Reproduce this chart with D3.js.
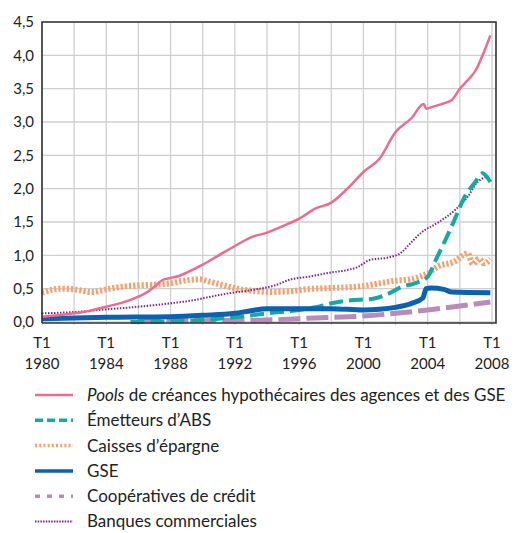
<!DOCTYPE html>
<html lang="fr">
<head>
  <meta charset="utf-8">
  <title>Détenteurs de créances hypothécaires</title>
  <script src="https://d3js.org/d3.v7.min.js"></script>
  <style>
    body { margin: 0; background: #fff; font-family: Lato, "Open Sans", sans-serif; }
    text { fill: #222; }
  </style>
</head>
<body>
  <div id="chart"></div>
  <script>
    // Data: [year (decimal), value]
    const pools = [[1980,0.08],[1981,0.1],[1982,0.13],[1983,0.17],[1984,0.23],[1985,0.29],[1986,0.38],[1986.5,0.44],[1987,0.53],[1987.5,0.63],[1988,0.66],[1988.5,0.69],[1989,0.74],[1990,0.86],[1991,1.0],[1992,1.14],[1993,1.27],[1994,1.34],[1995,1.44],[1996,1.55],[1997,1.7],[1998,1.79],[1999,2.0],[2000,2.25],[2001,2.45],[2002,2.85],[2003,3.06],[2003.75,3.27],[2003.9,3.2],[2004.2,3.22],[2005,3.28],[2005.5,3.33],[2006,3.5],[2006.5,3.63],[2007,3.78],[2007.5,4.05],[2007.9,4.3]];
    const abs = [[1985.5,0.0],[1988,0.01],[1990,0.03],[1992,0.07],[1994,0.13],[1996,0.18],[1997,0.22],[1998,0.28],[1999,0.32],[2000.6,0.35],[2001.6,0.43],[2002.4,0.53],[2003.2,0.58],[2004,0.68],[2004.5,0.93],[2005.1,1.23],[2005.7,1.55],[2006.3,1.88],[2006.9,2.08],[2007.4,2.23],[2007.9,2.1]];
    const caisses = [[1980,0.44],[1981.2,0.5],[1982,0.49],[1983.1,0.45],[1984,0.49],[1985,0.53],[1986,0.55],[1987,0.56],[1988,0.58],[1988.8,0.62],[1989.8,0.64],[1990.5,0.6],[1991.3,0.55],[1992.1,0.5],[1993.1,0.47],[1994.2,0.45],[1995.4,0.46],[1996.4,0.49],[1997.9,0.51],[1999,0.52],[2000,0.54],[2001,0.58],[2002,0.62],[2003.1,0.65],[2004,0.73],[2004.7,0.84],[2005.6,0.9],[2006.5,1.03],[2006.8,0.87],[2007.2,0.95],[2007.5,0.88],[2007.9,0.95]];
    const gse = [[1980,0.05],[1984,0.07],[1988,0.08],[1990,0.1],[1992,0.13],[1993,0.17],[1994,0.2],[1996,0.2],[1998,0.2],[2000,0.18],[2001,0.19],[2002,0.22],[2003,0.28],[2003.7,0.36],[2003.9,0.5],[2004.2,0.51],[2005,0.49],[2005.5,0.45],[2007.9,0.44]];
    const coop = [[1986,0.01],[1990,0.02],[1994,0.03],[1996,0.05],[1998,0.07],[2000,0.09],[2002,0.13],[2004,0.18],[2006,0.24],[2007.9,0.3]];
    const banques = [[1980,0.13],[1982,0.15],[1984,0.19],[1986,0.23],[1988,0.28],[1989.5,0.33],[1990.5,0.38],[1991.6,0.43],[1993.1,0.48],[1994.5,0.55],[1995.5,0.64],[1996.6,0.68],[1997.9,0.74],[1999,0.78],[1999.6,0.82],[2000.4,0.93],[2001.6,0.97],[2002.4,1.05],[2002.8,1.15],[2003.6,1.34],[2004.7,1.5],[2005.7,1.68],[2006.5,1.88],[2007.1,2.1],[2007.9,2.19]];

    const yTicks = [0, 0.5, 1, 1.5, 2, 2.5, 3, 3.5, 4, 4.5];
    const xTickYears = [1980, 1984, 1988, 1992, 1996, 2000, 2004, 2008];
    const gridYears = d3.range(1980, 2009, 2);

    const series = [
      { name: "Pools", rest: " de créances hypothécaires des agences et des GSE", data: pools, color: "#ef6b8e", width: 2.5, dash: null, legendDash: null },
      { name: "Émetteurs d’ABS", data: abs, color: "#12aaa2", width: 4, dash: "14,6", legendDash: "8,4" },
      { name: "Caisses d’épargne", data: caisses, color: "#f8a06c", width: 6, dash: "2.2,2", legendDash: "2,2.2" },
      { name: "GSE", data: gse, color: "#0b62b0", width: 5, dash: null, legendDash: null },
      { name: "Coopératives de crédit", data: coop, color: "#b78cb8", width: 5, dash: "22,6", legendDash: "5,7" },
      { name: "Banques commerciales", data: banques, color: "#7c2784", width: 2, dash: "1.5,1.5", legendDash: "1.5,1.2" }
    ];
    // draw order: bottom to top
    const drawOrder = [4, 2, 5, 1, 3, 0];

    const W = 516, H = 533;
    const svg = d3.select("#chart").append("svg").attr("width", W).attr("height", H);

    const x = d3.scaleLinear().domain([1980, 2008.25]).range([42, 496]);
    const y = d3.scaleLinear().domain([0, 4.5]).range([322, 22]);

    // Grid
    svg.append("g").selectAll("line.v").data(gridYears).join("line")
      .attr("x1", d => x(d)).attr("x2", d => x(d))
      .attr("y1", y(4.5)).attr("y2", y(0) + 3)
      .attr("stroke", "#cfcfcf").attr("stroke-width", 1.3);
    svg.append("g").selectAll("line.h").data(yTicks).join("line")
      .attr("x1", x(1980)).attr("x2", x(2008.25))
      .attr("y1", d => y(d)).attr("y2", d => y(d))
      .attr("stroke", "#cfcfcf").attr("stroke-width", 1.3);

    // Series
    const line = d3.line().x(d => x(d[0])).y(d => y(d[1])).curve(d3.curveMonotoneX);
    drawOrder.forEach(i => {
      const s = series[i];
      svg.append("path").datum(s.data)
        .attr("d", line)
        .attr("fill", "none")
        .attr("stroke", s.color)
        .attr("stroke-width", s.width)
        .attr("stroke-dasharray", s.dash)
        .attr("stroke-linejoin", "round");
    });

    // Frame
    svg.append("path")
      .attr("d", `M${x(1980)},${y(0) + 1}V${y(4.5)}H${x(2008.25)}V${y(0) + 1}H${x(1980)}`)
      .attr("fill", "none").attr("stroke", "#333").attr("stroke-width", 1.6);

    // Y axis labels
    const fmt = d => d.toFixed(1).replace(".", ",");
    svg.append("g").selectAll("text").data(yTicks).join("text")
      .attr("x", 34).attr("y", d => y(d))
      .attr("dy", "0.35em").attr("text-anchor", "end")
      .style("font-size", "15px").text(fmt);

    // X axis labels
    const xl = svg.append("g").selectAll("g").data(xTickYears).join("g")
      .attr("transform", d => `translate(${x(d)},0)`);
    xl.append("text").attr("y", 348).attr("text-anchor", "middle").style("font-size", "15px").text("T1");
    xl.append("text").attr("y", 369).attr("text-anchor", "middle").style("font-size", "15px").text(d => d);

    // Legend
    const lg = svg.append("g").selectAll("g").data(series).join("g")
      .attr("transform", (d, i) => `translate(0,${395 + i * 25.3})`);
    lg.append("line").attr("x1", 35).attr("x2", 73)
      .attr("stroke", d => d.color)
      .attr("stroke-width", d => Math.min(d.width, 3.5))
      .attr("stroke-dasharray", d => d.legendDash);
    const lt = lg.append("text").attr("x", 87).attr("dy", "0.35em").style("font-size", "17px");
    lt.each(function(d) {
      const t = d3.select(this);
      if (d.rest) {
        t.append("tspan").style("font-style", "italic").text(d.name);
        t.append("tspan").text(d.rest);
      } else {
        t.text(d.name);
      }
    });
  </script>
</body>
</html>
